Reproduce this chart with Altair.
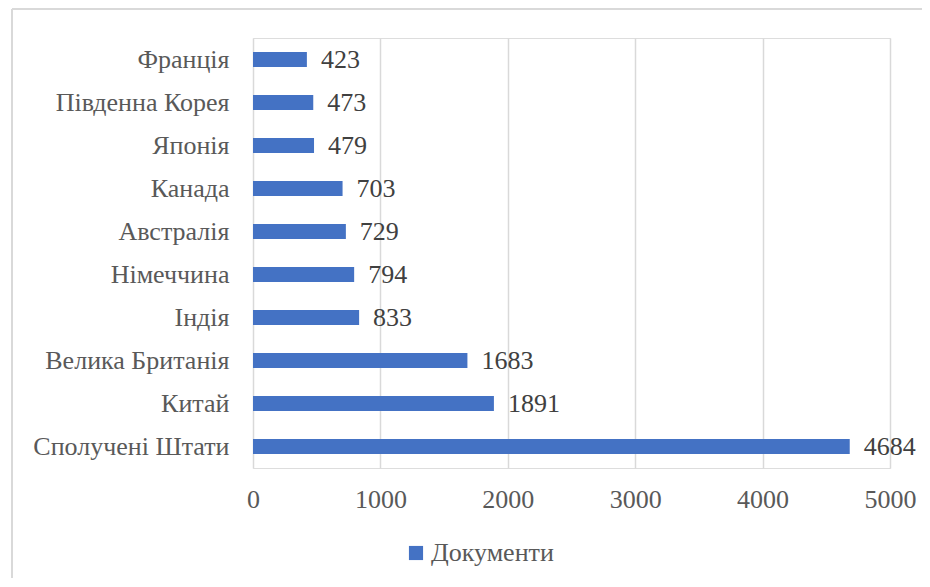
import altair as alt
import pandas as pd

countries = ["Франція", "Південна Корея", "Японія", "Канада", "Австралія",
             "Німеччина", "Індія", "Велика Британія", "Китай", "Сполучені Штати"]
values = [423, 473, 479, 703, 729, 794, 833, 1683, 1891, 4684]
series_name = "Документи"
x_ticks = [0, 1000, 2000, 3000, 4000, 5000]

df = pd.DataFrame({"country": countries, "value": values, "series": [series_name] * len(countries)})

FONT = "Liberation Serif, Times New Roman, serif"

base = alt.Chart(df)

bars = base.mark_bar().encode(
    y=alt.Y("country:N", sort=countries,
            scale=alt.Scale(paddingInner=0.65, paddingOuter=0.325),
            axis=alt.Axis(title=None, domain=False, ticks=False, grid=False,
                          labelFont=FONT, labelFontSize=26, labelColor="#595959",
                          labelPadding=24, labelLimit=0)),
    x=alt.X("value:Q", scale=alt.Scale(domain=[0, 5000], nice=False),
            axis=alt.Axis(title=None, values=x_ticks, format="d", domain=False, ticks=False,
                          grid=True, gridColor="#d9d9d9", gridWidth=1.5,
                          labelFont=FONT, labelFontSize=26, labelColor="#595959",
                          labelPadding=18, labelFlush=False)),
    color=alt.Color("series:N",
                    scale=alt.Scale(domain=[series_name], range=["#4472C4"]),
                    legend=alt.Legend(title=None, orient="none", legendX=150, legendY=502,
                                      symbolType="square", symbolSize=200,
                                      symbolStrokeWidth=0,
                                      labelFont=FONT, labelFontSize=26,
                                      labelColor="#595959", labelOffset=2)),
)

labels = base.mark_text(align="left", baseline="middle", dx=14, font=FONT,
                        fontSize=26, color="#404040").encode(
    y=alt.Y("country:N", sort=countries),
    x=alt.X("value:Q"),
    text=alt.Text("value:Q"),
)

frame_src = alt.Chart(pd.DataFrame({"a": [0]}))
top_line = frame_src.mark_rule(color="#d9d9d9", strokeWidth=2).encode(
    x=alt.value(-241), x2=alt.value(680), y=alt.value(-29)
)
left_line = frame_src.mark_rule(color="#d9d9d9", strokeWidth=2).encode(
    x=alt.value(-241), y=alt.value(-29), y2=alt.value(600)
)

chart = alt.layer(top_line, left_line, bars, labels).properties(
    width=637, height=430,
    autosize=alt.AutoSizeParams(type="none"),
    padding={"left": 245, "top": 30, "right": 32, "bottom": 110},
).configure_view(stroke=None).configure(background="white")

chart.save("out.html", embed_options={"renderer": "svg", "actions": False})
